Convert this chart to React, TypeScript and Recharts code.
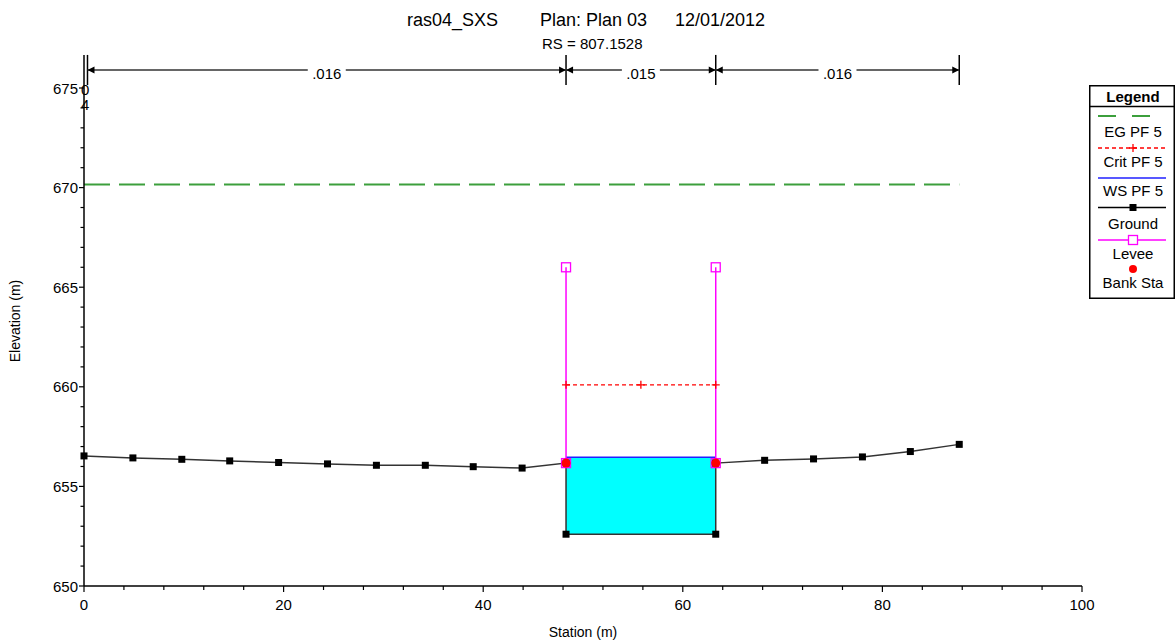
import React from "react"
import { Area, ComposedChart, Line, ReferenceLine, Scatter, XAxis, YAxis } from "recharts"

// cross section geometry (station m, elevation m)
const groundSta = [0, 4.9, 9.8, 14.6, 19.5, 24.4, 29.3, 34.2, 39.0, 43.9, 48.3, 48.3, 63.3, 63.3, 68.2, 73.1, 78.0, 82.8, 87.7]
const groundElev = [656.53, 656.43, 656.36, 656.28, 656.2, 656.13, 656.06, 656.06, 655.99, 655.92, 656.17, 652.6, 652.6, 656.17, 656.31, 656.38, 656.48, 656.75, 657.11]

const bankSta = [48.3, 63.3]
const bankElev = 656.17
const leveeTop = 666.0
const wsElev = 656.46
const critSta = [48.3, 55.8, 63.3]
const critElev = 660.1
const egSta = [0, 87.7]
const egElev = 670.15

// manning's n regions
const nBreaks = [0.35, 48.3, 63.3, 87.7]
const nValues = [".016", ".015", ".016"]

const xTicks = [0, 4, 8, 12, 16, 20, 24, 28, 32, 36, 40, 44, 48, 52, 56, 60, 64, 68, 72, 76, 80, 84, 88, 92, 96, 100]
const yTicks = [650, 651, 652, 653, 654, 655, 656, 657, 658, 659, 660, 661, 662, 663, 664, 665, 666, 667, 668, 669, 670, 671, 672, 673, 674, 675]

const ground = groundSta.map((x, i) => ({ x, y: groundElev[i] }))
const water = [{ x: bankSta[0], ws: [groundElev[11], wsElev] }, { x: bankSta[1], ws: [groundElev[12], wsElev] }]
const wsLine = bankSta.map((x) => ({ x, y: wsElev }))
const crit = critSta.map((x) => ({ x, y: critElev }))
const eg = egSta.map((x) => ({ x, y: egElev }))
const banks = bankSta.map((x) => ({ x, y: bankElev }))
const leveeL = [{ x: bankSta[0], y: bankElev }, { x: bankSta[0], y: leveeTop }]
const leveeR = [{ x: bankSta[1], y: bankElev }, { x: bankSta[1], y: leveeTop }]

const FONT = "'Liberation Sans', Arial, sans-serif"
const BRACKET_TOP = 676.66
const BRACKET_MID = 675.9
const BRACKET_BOT = 675.15

const XTick = (p: any) => {
  const v = p.payload.value
  const major = v % 20 === 0
  return (
    <g>
      <line x1={p.x} x2={p.x} y1={p.y} y2={p.y + (major ? 6 : 4)} stroke="#000" strokeWidth={1.2} />
      {major && (
        <text x={p.x} y={p.y + 18} textAnchor="middle" dominantBaseline="central" fontSize={15} fontFamily={FONT} fill="#000">
          {v}
        </text>
      )}
    </g>
  )
}

const YTick = (p: any) => {
  const v = p.payload.value
  const major = v % 5 === 0
  return (
    <g>
      <line x1={p.x - (major ? 5 : 3.5)} x2={p.x} y1={p.y} y2={p.y} stroke="#000" strokeWidth={1.2} />
      {major && (
        <text x={p.x - 6} y={p.y} textAnchor="end" dominantBaseline="central" fontSize={15} fontFamily={FONT} fill="#000">
          {v}
        </text>
      )}
    </g>
  )
}

const groundDot = (p: any) => (
  <rect key={`g${p.index}`} x={p.cx - 3.5} y={p.cy - 3.5} width={7} height={7} fill="#000" />
)
const leveeDot = (p: any) => (
  <rect key={`l${p.index}`} x={p.cx - 4.5} y={p.cy - 4.5} width={9} height={9} fill="none" stroke="#ff00ff" strokeWidth={1.3} />
)
const critDot = (p: any) => (
  <path key={`c${p.index}`} d={`M${p.cx - 4},${p.cy}H${p.cx + 4}M${p.cx},${p.cy - 4}V${p.cy + 4}`} stroke="#ff0000" strokeWidth={1.3} />
)
const bankDot = (p: any) => <circle cx={p.cx} cy={p.cy} r={4.5} fill="#ff0000" />

const bracket = (label: string) => (p: any) => {
  const { x1, x2, y1 } = p
  const mid = (x1 + x2) / 2
  return (
    <g>
      <line x1={x1} x2={x2} y1={y1} y2={y1} stroke="#333" strokeWidth={1.5} />
      <polygon points={`${x1},${y1} ${x1 + 7},${y1 - 3.5} ${x1 + 7},${y1 + 3.5}`} fill="#000" />
      <polygon points={`${x2},${y1} ${x2 - 7},${y1 - 3.5} ${x2 - 7},${y1 + 3.5}`} fill="#000" />
      <rect x={mid - 19} y={y1 - 8} width={38} height={18} fill="#fff" />
      <text x={mid} y={y1 + 3} textAnchor="middle" dominantBaseline="central" fontSize={15} fontFamily={FONT} fill="#000">
        {label}
      </text>
    </g>
  )
}

const txt = (s: string, left: number, top: number, size: number, extra: React.CSSProperties = {}) => (
  <div
    style={{
      position: "absolute",
      left,
      top,
      fontSize: size,
      lineHeight: 1,
      whiteSpace: "nowrap",
      transform: "translateY(-50%)",
      ...extra,
    }}
  >
    {s}
  </div>
)

function LegendBox() {
  const cx = 44
  return (
    <svg
      width={86}
      height={214}
      style={{ position: "absolute", left: 1089, top: 85, overflow: "visible" }}
      fontFamily={FONT}
    >
      <rect x={0.75} y={0.75} width={84.5} height={212.5} fill="#fff" stroke="#000" strokeWidth={1.5} />
      <line x1={0} x2={86} y1={21.5} y2={21.5} stroke="#000" strokeWidth={1.5} />
      <text x={cx} y={11.5} textAnchor="middle" dominantBaseline="central" fontSize={15} fontWeight="bold">Legend</text>

      <line x1={9} x2={77} y1={31} y2={31} stroke="#3c9f3c" strokeWidth={2} strokeDasharray="18 16" />
      <text x={cx} y={46.5} textAnchor="middle" dominantBaseline="central" fontSize={15}>EG PF 5</text>

      <line x1={9} x2={77} y1={63} y2={63} stroke="#ff0000" strokeWidth={1.3} strokeDasharray="4 3" />
      <path d={`M${cx - 4},63H${cx + 4}M${cx},59V67`} stroke="#ff0000" strokeWidth={1.3} />
      <text x={cx} y={76.5} textAnchor="middle" dominantBaseline="central" fontSize={15}>Crit PF 5</text>

      <line x1={9} x2={77} y1={93} y2={93} stroke="#2020ff" strokeWidth={1.5} />
      <text x={cx} y={105.5} textAnchor="middle" dominantBaseline="central" fontSize={15}>WS PF 5</text>

      <line x1={9} x2={77} y1={122.5} y2={122.5} stroke="#000" strokeWidth={1.5} />
      <rect x={cx - 3.5} y={119} width={7} height={7} fill="#000" />
      <text x={cx} y={138} textAnchor="middle" dominantBaseline="central" fontSize={15}>Ground</text>

      <line x1={9} x2={77} y1={155} y2={155} stroke="#ff00ff" strokeWidth={1.5} />
      <rect x={cx - 4.5} y={150.5} width={9} height={9} fill="#fff" stroke="#ff00ff" strokeWidth={1.3} />
      <text x={cx} y={168} textAnchor="middle" dominantBaseline="central" fontSize={15}>Levee</text>

      <circle cx={cx} cy={184} r={4} fill="#ff0000" />
      <text x={cx} y={197.5} textAnchor="middle" dominantBaseline="central" fontSize={15}>Bank Sta</text>
    </svg>
  )
}

export default function App() {
  return (
    <div
      style={{
        position: "absolute",
        left: 0,
        top: 0,
        width: 1176,
        height: 644,
        background: "#fff",
        fontFamily: FONT,
        color: "#000",
      }}
    >
      {txt("ras04_SXS", 407, 20, 18)}
      {txt("Plan: Plan 03", 540, 20, 18)}
      {txt("12/01/2012", 675, 20, 18)}
      {txt("RS = 807.1528", 542, 43, 15)}

      <ComposedChart width={1176} height={644} margin={{ top: 88, right: 94, bottom: 28, left: 40 }}>
        <XAxis
          dataKey="x"
          type="number"
          domain={[0, 100]}
          ticks={xTicks}
          interval={0}
          tick={<XTick />}
          tickSize={0}
          tickMargin={0}
          tickLine={false}
          height={30}
          axisLine={{ stroke: "#000", strokeWidth: 1.5 }}
        />
        <YAxis
          type="number"
          domain={[650, 675]}
          ticks={yTicks}
          interval={0}
          tick={<YTick />}
          tickSize={0}
          tickMargin={0}
          tickLine={false}
          width={44}
          axisLine={{ stroke: "#000", strokeWidth: 1.5 }}
        />

        <Area data={water} dataKey="ws" type="linear" stroke="none" fill="#00ffff" fillOpacity={1} isAnimationActive={false} />
        <Line data={eg} dataKey="y" type="linear" stroke="#3c9f3c" strokeWidth={2} strokeDasharray="26 9" dot={false} isAnimationActive={false} />
        <Line data={wsLine} dataKey="y" type="linear" stroke="#2020ff" strokeWidth={1.5} dot={false} isAnimationActive={false} />
        <Line data={ground} dataKey="y" type="linear" stroke="#333" strokeWidth={1.5} dot={groundDot} isAnimationActive={false} />
        <Line data={crit} dataKey="y" type="linear" stroke="#ff0000" strokeWidth={1.2} strokeDasharray="4 3" dot={critDot} isAnimationActive={false} />
        <Line data={leveeL} dataKey="y" type="linear" stroke="#ff00ff" strokeWidth={1.5} dot={leveeDot} isAnimationActive={false} />
        <Line data={leveeR} dataKey="y" type="linear" stroke="#ff00ff" strokeWidth={1.5} dot={leveeDot} isAnimationActive={false} />
        <Scatter data={banks} dataKey="y" shape={bankDot} isAnimationActive={false} />

        <ReferenceLine
          segment={[{ x: 0, y: 675 }, { x: 0, y: BRACKET_TOP }]}
          stroke="#000"
          strokeWidth={1.5}
          ifOverflow="visible"
        />
        {nBreaks.map((b) => (
          <ReferenceLine
            key={`nb${b}`}
            segment={[{ x: b, y: BRACKET_BOT }, { x: b, y: BRACKET_TOP }]}
            stroke="#000"
            strokeWidth={1.5}
            ifOverflow="visible"
          />
        ))}
        {nValues.map((n, i) => (
          <ReferenceLine
            key={`nv${i}`}
            segment={[{ x: nBreaks[i], y: BRACKET_MID }, { x: nBreaks[i + 1], y: BRACKET_MID }]}
            shape={bracket(n)}
            ifOverflow="visible"
          />
        ))}
      </ComposedChart>

      {txt("0", 81, 89, 15)}
      {txt("4", 81, 104, 15)}
      {txt("Elevation (m)", 15, 321, 14, { transform: "translate(-50%, -50%) rotate(-90deg)" })}
      {txt("Station (m)", 583, 632, 14, { transform: "translate(-50%, -50%)" })}

      <LegendBox />
    </div>
  )
}
